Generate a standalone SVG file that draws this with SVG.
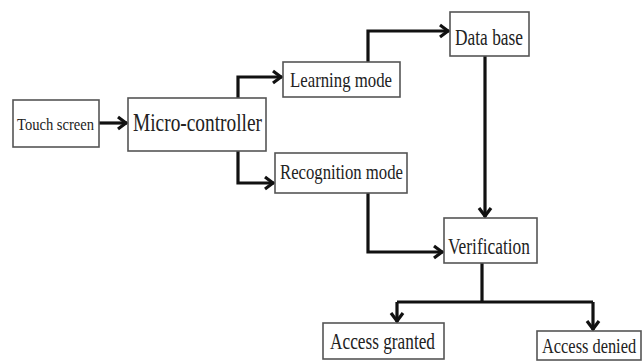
<svg xmlns="http://www.w3.org/2000/svg" width="642" height="361" viewBox="0 0 642 361">
<style>
.box{fill:#fff;stroke:#555;stroke-width:1.6}
.t{font-family:"Liberation Serif","Times New Roman",serif;fill:#222;}
.c{fill:none;stroke:#111;stroke-width:3.2;stroke-linejoin:miter}
</style>
<defs>
<marker id="ah" markerUnits="userSpaceOnUse" markerWidth="14" markerHeight="16" viewBox="0 0 14 16" refX="12" refY="8" orient="auto">
<path d="M3,2 L11,8 L3,14" fill="none" stroke="#111" stroke-width="3.2"/>
</marker>
</defs>
<rect width="642" height="361" fill="#fff"/>
<g id="connectors">
<path class="c" d="M99,123 H127" marker-end="url(#ah)"/>
<path class="c" d="M238,98 V77 H282" marker-end="url(#ah)"/>
<path class="c" d="M238,151 V183 H274" marker-end="url(#ah)"/>
<path class="c" d="M368,62 V31 H449" marker-end="url(#ah)"/>
<path class="c" d="M485,56 V217" marker-end="url(#ah)"/>
<path class="c" d="M368,193 V252 H443" marker-end="url(#ah)"/>
<path class="c" d="M482,263 V302"/>
<path class="c" d="M397,302 H593"/>
<path class="c" d="M397,302 V322" marker-end="url(#ah)"/>
<path class="c" d="M593,302 V330" marker-end="url(#ah)"/>
</g>
<g id="touch-screen">
<rect class="box" x="13" y="100" width="86" height="47"/>
<text class="t" x="17" y="130" font-size="16" textLength="77" lengthAdjust="spacingAndGlyphs">Touch screen</text>
</g>
<g id="micro-controller">
<rect class="box" x="128" y="98" width="138" height="53"/>
<text class="t" x="133" y="131" font-size="25" textLength="129" lengthAdjust="spacingAndGlyphs">Micro-controller</text>
</g>
<g id="learning-mode">
<rect class="box" x="283" y="62" width="117" height="35"/>
<text class="t" x="290" y="87" font-size="21" textLength="102" lengthAdjust="spacingAndGlyphs">Learning mode</text>
</g>
<g id="recognition-mode">
<rect class="box" x="275" y="153" width="132" height="40"/>
<text class="t" x="280" y="179" font-size="21" textLength="123" lengthAdjust="spacingAndGlyphs">Recognition mode</text>
</g>
<g id="data-base">
<rect class="box" x="450" y="12" width="79" height="44"/>
<text class="t" x="455" y="45" font-size="23" textLength="68" lengthAdjust="spacingAndGlyphs">Data base</text>
</g>
<g id="verification">
<rect class="box" x="444" y="218" width="93" height="45"/>
<text class="t" x="448" y="254" font-size="24" textLength="82" lengthAdjust="spacingAndGlyphs">Verification</text>
</g>
<g id="access-granted">
<rect class="box" x="323" y="323" width="121" height="36"/>
<text class="t" x="330" y="349" font-size="23" textLength="105" lengthAdjust="spacingAndGlyphs">Access granted</text>
</g>
<g id="access-denied">
<rect class="box" x="537" y="331" width="104" height="29"/>
<text class="t" transform="translate(542,353) scale(0.78,1)" x="0" y="0" font-size="21">Access denied</text>
</g>
</svg>
